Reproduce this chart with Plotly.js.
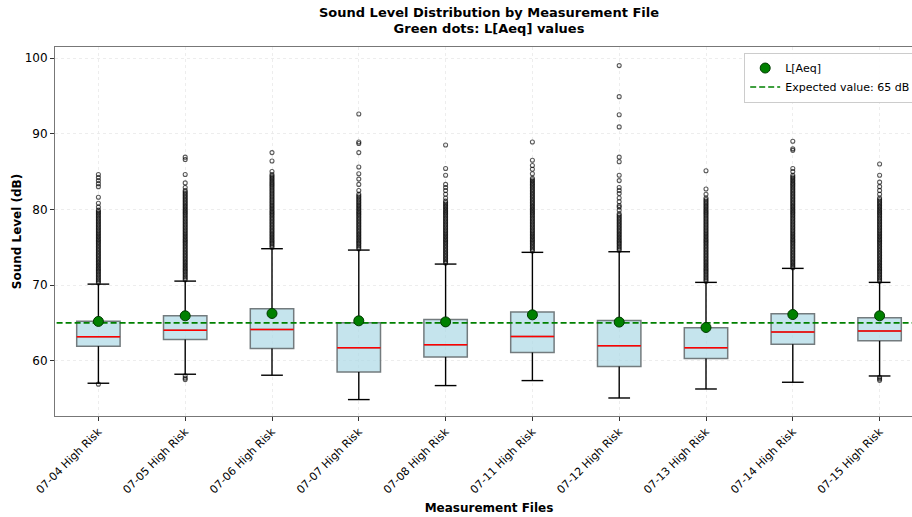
<!DOCTYPE html>
<html>
<head>
<meta charset="utf-8">
<script src="https://cdn.plot.ly/plotly-3.0.1.min.js"></script>
<style>
html,body{margin:0;padding:0;overflow:hidden;background:#fff;}
#chart{width:923px;height:517px;}
</style>
</head>
<body>
<div id="chart"></div>
<script>
// ---- data ----
const CATEGORIES = ["07-04 High Risk","07-05 High Risk","07-06 High Risk","07-07 High Risk","07-08 High Risk",
                    "07-11 High Risk","07-12 High Risk","07-13 High Risk","07-14 High Risk","07-15 High Risk"];
const WHISKER_LOW = [57.02, 58.21, 58.08, 54.86, 56.71, 57.37, 55.07, 56.26, 57.15, 57.98];
const Q1          = [61.92, 62.80, 61.61, 58.51, 60.50, 61.08, 59.23, 60.29, 62.18, 62.62];
const MEDIAN      = [63.15, 64.03, 64.13, 61.70, 62.10, 63.20, 61.96, 61.70, 63.80, 63.94];
const Q3          = [65.22, 65.93, 66.85, 65.00, 65.45, 66.42, 65.30, 64.34, 66.20, 65.66];
const WHISKER_HIGH= [70.12, 70.52, 74.80, 74.62, 72.77, 74.32, 74.40, 70.35, 72.20, 70.35];
const LAEQ        = [65.19, 65.93, 66.24, 65.27, 65.13, 66.06, 65.10, 64.39, 66.10, 65.93];
const EXPECTED    = 65;

const OUTLIERS_0704 = [56.9,
 70.3,70.5,70.7,70.9,71.1,71.3,71.5,71.7,71.9,72.1,72.3,72.5,72.7,72.9,73.1,73.3,73.5,73.7,73.9,74.1,74.3,74.5,74.7,74.9,
 75.1,75.3,75.5,75.7,75.9,76.1,76.3,76.5,76.7,76.9,77.1,77.3,77.5,77.7,77.9,78.1,78.3,78.5,78.7,78.9,79.1,79.3,79.5,79.7,79.9,
 80.3,80.8,81.6,83.0,83.4,83.8,84.2,84.6];
const OUTLIERS_0705 = [58.0,57.7,57.5,
 70.7,70.9,71.1,71.3,71.5,71.7,71.9,72.1,72.3,72.5,72.7,72.9,73.1,73.3,73.5,73.7,73.9,74.1,74.3,74.5,74.7,74.9,
 75.1,75.3,75.5,75.7,75.9,76.1,76.3,76.5,76.7,76.9,77.1,77.3,77.5,77.7,77.9,78.1,78.3,78.5,78.7,78.9,79.1,79.3,79.5,79.7,79.9,
 80.1,80.3,80.5,80.7,80.9,81.1,81.3,81.5,81.7,81.9,82.1,82.3,82.5,
 82.9,83.5,84.6,86.6,86.9];
const OUTLIERS_0706 = [
 75.0,75.2,75.4,75.6,75.8,76.0,76.2,76.4,76.6,76.8,77.0,77.2,77.4,77.6,77.8,78.0,78.2,78.4,78.6,78.8,79.0,79.2,79.4,79.6,79.8,
 80.0,80.2,80.4,80.6,80.8,81.0,81.2,81.4,81.6,81.8,82.0,82.2,82.4,82.6,82.8,83.0,83.2,83.4,83.6,83.8,84.0,84.2,84.4,84.6,
 85.0,86.4,87.5];
const OUTLIERS_0707 = [
 74.8,75.0,75.2,75.4,75.6,75.8,76.0,76.2,76.4,76.6,76.8,77.0,77.2,77.4,77.6,77.8,78.0,78.2,78.4,78.6,78.8,79.0,79.2,79.4,79.6,79.8,
 80.0,80.2,80.4,80.6,80.8,81.0,81.2,81.4,81.6,81.8,82.0,
 82.5,83.3,84.0,84.7,85.6,87.5,88.7,88.9,92.6];
const OUTLIERS_0708 = [
 72.9,73.1,73.3,73.5,73.7,73.9,74.1,74.3,74.5,74.7,74.9,75.1,75.3,75.5,75.7,75.9,76.1,76.3,76.5,76.7,76.9,77.1,77.3,77.5,77.7,77.9,
 78.1,78.3,78.5,78.7,78.9,79.1,79.3,79.5,79.7,79.9,80.1,80.3,80.5,80.7,80.9,81.1,
 81.5,82.0,82.5,82.9,83.3,84.5,85.4,88.5];
const OUTLIERS_0711 = [
 74.5,74.7,74.9,75.1,75.3,75.5,75.7,75.9,76.1,76.3,76.5,76.7,76.9,77.1,77.3,77.5,77.7,77.9,78.1,78.3,78.5,78.7,78.9,79.1,79.3,79.5,79.7,79.9,
 80.1,80.3,80.5,80.7,80.9,81.1,81.3,81.5,81.7,81.9,82.1,82.3,82.5,82.7,82.9,83.1,83.3,83.5,83.7,83.9,84.1,
 84.7,85.3,85.8,86.5,88.9];
const OUTLIERS_0712 = [
 74.6,74.8,75.0,75.2,75.4,75.6,75.8,76.0,76.2,76.4,76.6,76.8,77.0,77.2,77.4,77.6,77.8,78.0,78.2,78.4,78.6,78.8,79.0,79.2,
 79.4,79.9,80.3,80.5,81.0,81.5,82.1,82.5,82.9,83.8,84.5,86.3,86.9,90.9,92.5,94.9,99.0];
const OUTLIERS_0713 = [
 70.5,70.7,70.9,71.1,71.3,71.5,71.7,71.9,72.1,72.3,72.5,72.7,72.9,73.1,73.3,73.5,73.7,73.9,74.1,74.3,74.5,74.7,74.9,
 75.1,75.3,75.5,75.7,75.9,76.1,76.3,76.5,76.7,76.9,77.1,77.3,77.5,77.7,77.9,78.1,78.3,78.5,78.7,78.9,79.1,79.3,79.5,79.7,79.9,
 80.1,80.3,80.5,80.7,80.9,81.1,81.3,81.5,
 82.0,82.7,85.1];
const OUTLIERS_0714 = [
 72.3,72.5,72.7,72.9,73.1,73.3,73.5,73.7,73.9,74.1,74.3,74.5,74.7,74.9,75.1,75.3,75.5,75.7,75.9,76.1,76.3,76.5,76.7,76.9,
 77.1,77.3,77.5,77.7,77.9,78.1,78.3,78.5,78.7,78.9,79.1,79.3,79.5,79.7,79.9,80.1,80.3,80.5,80.7,80.9,81.1,81.3,81.5,81.7,81.9,
 82.1,82.3,82.5,82.7,82.9,83.1,83.3,83.5,83.7,83.9,84.1,84.3,84.5,
 85.0,85.4,87.8,88.0,89.0];
const OUTLIERS_0715 = [57.8,57.6,57.4,
 70.5,70.7,70.9,71.1,71.3,71.5,71.7,71.9,72.1,72.3,72.5,72.7,72.9,73.1,73.3,73.5,73.7,73.9,74.1,74.3,74.5,74.7,74.9,
 75.1,75.3,75.5,75.7,75.9,76.1,76.3,76.5,76.7,76.9,77.1,77.3,77.5,77.7,77.9,78.1,78.3,78.5,78.7,78.9,79.1,79.3,79.5,79.7,79.9,
 80.1,80.3,80.5,80.7,80.9,81.1,81.3,81.5,
 82.0,82.5,83.0,83.6,84.5,86.0];
const OUTLIERS = [OUTLIERS_0704, OUTLIERS_0705, OUTLIERS_0706, OUTLIERS_0707, OUTLIERS_0708,
                  OUTLIERS_0711, OUTLIERS_0712, OUTLIERS_0713, OUTLIERS_0714, OUTLIERS_0715];

// ---- build traces ----
const N = CATEGORIES.length;
const POS = CATEGORIES.map((c, i) => i + 1);
const BOX_W = 0.5, CAP_W = 0.25;

const boxTrace = {
  type: 'box', x: POS, q1: Q1, median: MEDIAN, q3: Q3,
  lowerfence: Q1, upperfence: Q3, width: BOX_W, whiskerwidth: 0,
  boxpoints: false, fillcolor: 'rgba(173,216,230,0.7)',
  line: {color: '#737b7e', width: 1.5}, showlegend: false, hoverinfo: 'skip'
};

const wx = [], wy = [], cx = [], cy = [], mx = [], my = [];
POS.forEach((p, i) => {
  wx.push(p, p, null, p, p, null);
  wy.push(Q3[i], WHISKER_HIGH[i], null, Q1[i], WHISKER_LOW[i], null);
  cx.push(p - CAP_W/2, p + CAP_W/2, null, p - CAP_W/2, p + CAP_W/2, null);
  cy.push(WHISKER_HIGH[i], WHISKER_HIGH[i], null, WHISKER_LOW[i], WHISKER_LOW[i], null);
  mx.push(p - BOX_W/2, p + BOX_W/2, null);
  my.push(MEDIAN[i], MEDIAN[i], null);
});
const whiskerTrace = {type:'scatter', mode:'lines', x: wx, y: wy, line:{color:'#000', width:1.4}, showlegend:false, hoverinfo:'skip'};
const capTrace = {type:'scatter', mode:'lines', x: cx, y: cy, line:{color:'#000', width:1.4}, showlegend:false, hoverinfo:'skip'};
const medianTrace = {type:'scatter', mode:'lines', x: mx, y: my, line:{color:'#ff0000', width:1.5}, showlegend:false, hoverinfo:'skip'};

const ox = [], oy = [];
OUTLIERS.forEach((arr, i) => arr.forEach(v => { ox.push(POS[i]); oy.push(v); }));
const outlierTrace = {type:'scatter', mode:'markers', x: ox, y: oy,
  marker:{symbol:'circle-open', size:4, color:'rgba(0,0,0,0.65)', line:{width:1.1}}, showlegend:false, hoverinfo:'skip'};

const expectedTrace = {type:'scatter', mode:'lines', x:[0, N + 1], y:[EXPECTED, EXPECTED],
  name:'Expected value: ' + EXPECTED + ' dB', line:{color:'#008000', width:1.6, dash:'6px,3px'}, legendrank: 2};
const laeqTrace = {type:'scatter', mode:'markers', x: POS, y: LAEQ, name:'L[Aeq]',
  marker:{color:'#008000', size:10, line:{color:'#003a00', width:1}}, legendrank: 1};

const gridColor = '#e8e8e8';
const layout = {
  width: 923, height: 517,
  margin: {l: 55, r: 0, t: 47, b: 101, pad: 0},
  paper_bgcolor: '#fff', plot_bgcolor: '#fff',
  font: {family: 'DejaVu Sans', size: 11, color: '#000'},
  title: {text: '<b>Sound Level Distribution by Measurement File</b><br><b>Green dots: L[Aeq] values</b>',
          font: {family: 'DejaVu Sans', size: 13, color: '#000'},
          x: 0.5, xref: 'paper', xanchor: 'center', y: 0.968, yref: 'container', yanchor: 'top'},
  xaxis: {range: [0.5, N + 0.5], tickvals: POS, ticktext: CATEGORIES, tickangle: -45,
          ticks: 'outside', ticklen: 4, tickcolor: '#333', showline: true, linecolor: '#777', linewidth: 1, mirror: true,
          showgrid: true, gridcolor: gridColor, griddash: '3px,3px', gridwidth: 0.8, zeroline: false,
          tickfont: {size: 11, color: '#000'},
          title: {text: '<b>Measurement Files</b>', font: {size: 12, color: '#000'}, standoff: 8}},
  yaxis: {range: [52.69, 101.46], tickvals: [60, 70, 80, 90, 100],
          ticks: 'outside', ticklen: 4, tickcolor: '#333', showline: true, linecolor: '#777', linewidth: 1, mirror: true,
          showgrid: true, gridcolor: gridColor, griddash: '3px,3px', gridwidth: 0.8, zeroline: false,
          tickfont: {size: 12, color: '#000'},
          title: {text: '<b>Sound Level (dB)</b>', font: {size: 12, color: '#000'}, standoff: 0}},
  legend: {x: 0.794, y: 0.985, xanchor: 'left', yanchor: 'top', bgcolor: 'rgba(255,255,255,0.9)',
           bordercolor: '#cccccc', borderwidth: 1, font: {size: 11, color: '#000'}, traceorder: 'normal'},
  showlegend: true
};

Plotly.newPlot('chart', [boxTrace, whiskerTrace, capTrace, medianTrace, outlierTrace, expectedTrace, laeqTrace],
               layout, {displayModeBar: false, staticPlot: true});
</script>
</body>
</html>
